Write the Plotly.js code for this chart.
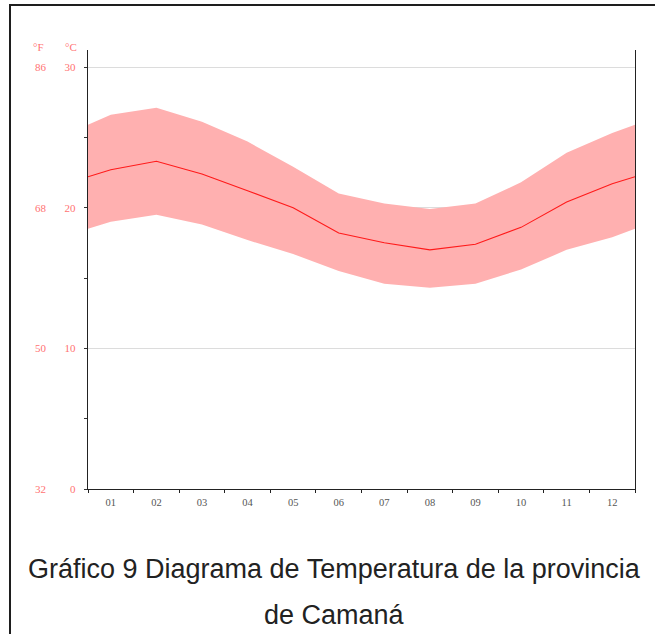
<!DOCTYPE html>
<html>
<head>
<meta charset="utf-8">
<script src="https://cdn.plot.ly/plotly-3.0.1.min.js"></script>
<style>
  html, body { margin: 0; padding: 0; background: #fff; }
  #wrap { position: relative; width: 655px; height: 634px; overflow: hidden; }
  #chart { position: absolute; left: 0; top: 0; width: 655px; height: 634px; }
  #frame { position: absolute; left: 9px; top: 4px; width: 700px; height: 700px;
           border-left: 2px solid #1e1e1e; border-top: 2px solid #1e1e1e; pointer-events: none; }
</style>
</head>
<body>
<div id="wrap">
  <div id="chart"></div>
  <div id="frame"></div>
</div>
<script>
// Month positions (0.5 and 12.5 are the chart's left/right edges)
const monthPos = [0.5, 1, 2, 3, 4, 5, 6, 7, 8, 9, 10, 11, 12, 12.5];
const tickLabels = ['01','02','03','04','05','06','07','08','09','10','11','12'];
const tickPos = [1,2,3,4,5,6,7,8,9,10,11,12];
// Temperatures in °C
const tempMax  = [25.9, 26.6, 27.1, 26.1, 24.7, 22.9, 21.0, 20.3, 19.9, 20.3, 21.8, 23.9, 25.3, 25.9];
const tempMean = [22.2, 22.7, 23.3, 22.4, 21.2, 20.0, 18.2, 17.5, 17.0, 17.4, 18.6, 20.4, 21.7, 22.2];
const tempMin  = [18.5, 19.0, 19.5, 18.8, 17.7, 16.7, 15.5, 14.6, 14.3, 14.6, 15.6, 17.0, 17.9, 18.5];
const celsiusTicks = [0, 10, 20, 30];
const fahrenheitTicks = [32, 50, 68, 86];

const W = 655, H = 634;
const plotLeft = 88, plotRight = 635, plotTop = 50, plotBottom = 489;
const pxPerDeg = (plotBottom - 67) / 30;
const yMaxC = (plotBottom - plotTop) / pxPerDeg;
const domStart = plotLeft / plotRight;

const red = '#ff7272';
const serif = 'Liberation Serif, DejaVu Serif, serif';
const tickFont = { family: serif, size: 11, color: red };

const traces = [
  { x: monthPos, y: tempMax, type: 'scatter', mode: 'lines', line: { width: 0, color: 'rgba(0,0,0,0)' },
    hoverinfo: 'skip', showlegend: false },
  { x: monthPos, y: tempMin, type: 'scatter', mode: 'lines', line: { width: 0, color: 'rgba(0,0,0,0)' },
    fill: 'tonexty', fillcolor: '#ffb0b0', showlegend: false },
  { x: monthPos, y: tempMean, type: 'scatter', mode: 'lines', line: { width: 1.1, color: '#ff1a1a' },
    showlegend: false },
  // invisible carrier so the Fahrenheit axis is drawn
  { x: [tickPos[0]], y: [fahrenheitTicks[0]], yaxis: 'y2', type: 'scatter', mode: 'markers',
    marker: { opacity: 0, size: 1 }, hoverinfo: 'skip', showlegend: false }
];

const layout = {
  width: W, height: H,
  margin: { l: 0, r: W - plotRight, t: plotTop, b: H - plotBottom, pad: 0 },
  paper_bgcolor: 'rgba(0,0,0,0)', plot_bgcolor: 'rgba(0,0,0,0)',
  showlegend: false,
  xaxis: {
    domain: [domStart, 1],
    range: [0.5, 12.5],
    tickvals: tickPos, ticktext: tickLabels,
    ticks: '', showgrid: false, zeroline: false,
    showline: true, linecolor: '#222', linewidth: 1.2,
    tickfont: { family: serif, size: 10.5, color: '#555' },
    ticklabelstandoff: 3,
    minor: { tick0: 0.5, dtick: 1, ticks: 'outside', ticklen: 3, tickcolor: '#222', tickwidth: 1, showgrid: false },
    fixedrange: true
  },
  yaxis: {
    range: [0, yMaxC],
    tickvals: celsiusTicks, ticktext: celsiusTicks.map(String),
    ticks: 'outside', ticklen: 3, tickcolor: '#333', tickwidth: 1,
    minor: { tick0: 0, dtick: 5, ticks: 'outside', ticklen: 3, tickcolor: '#333', tickwidth: 1, showgrid: false },
    showgrid: true, gridcolor: '#dcdcdc', gridwidth: 1,
    zeroline: false,
    showline: true, linecolor: '#222', linewidth: 1.2, mirror: true,
    tickfont: tickFont,
    ticklabelstandoff: 6,
    fixedrange: true
  },
  yaxis2: {
    overlaying: 'y', anchor: 'free', side: 'left',
    position: 46 / plotRight,
    range: [32, 32 + yMaxC * 1.8],
    tickvals: fahrenheitTicks, ticktext: fahrenheitTicks.map(String),
    ticks: '', showgrid: false, zeroline: false, showline: false,
    tickfont: tickFont,
    fixedrange: true
  },
  annotations: [
    { text: '°F', xref: 'paper', yref: 'paper', x: 38 / plotRight, y: (plotBottom - 47) / (plotBottom - plotTop),
      xanchor: 'center', yanchor: 'middle', showarrow: false,
      font: { family: serif, size: 11, color: red } },
    { text: '°C', xref: 'paper', yref: 'paper', x: 71 / plotRight, y: (plotBottom - 47) / (plotBottom - plotTop),
      xanchor: 'center', yanchor: 'middle', showarrow: false,
      font: { family: serif, size: 11, color: red } },
    { text: 'Gráfico 9 Diagrama de Temperatura de la provincia', xref: 'paper', yref: 'paper',
      x: 335 / plotRight, y: (plotBottom - 569) / (plotBottom - plotTop),
      xanchor: 'center', yanchor: 'middle', showarrow: false,
      font: { family: 'Liberation Sans, Arial, sans-serif', size: 27, color: '#222' } },
    { text: 'de Camaná', xref: 'paper', yref: 'paper',
      x: 335 / plotRight, y: (plotBottom - 615) / (plotBottom - plotTop),
      xanchor: 'center', yanchor: 'middle', showarrow: false,
      font: { family: 'Liberation Sans, Arial, sans-serif', size: 27, color: '#222' } }
  ]
};

Plotly.newPlot('chart', traces, layout, { displayModeBar: false, staticPlot: true });
</script>
</body>
</html>
